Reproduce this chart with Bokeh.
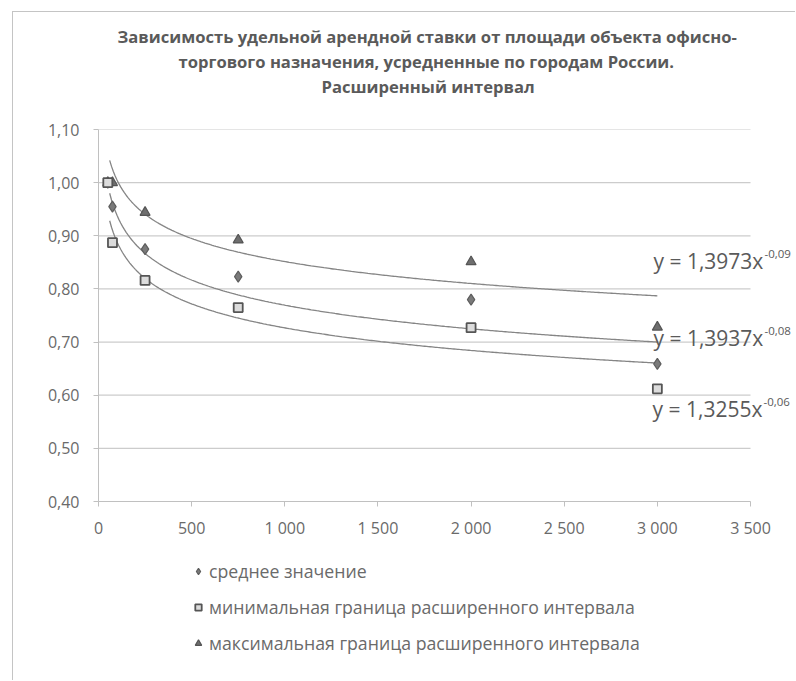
import numpy as np
from bokeh.plotting import figure
from bokeh.layouts import column
from bokeh.models import Range1d, FixedTicker, Legend, LegendItem, Label, Title
from bokeh.embed import file_html
from bokeh.resources import INLINE

# ---------------- data ----------------
area = [50, 75, 250, 750, 2000, 3000]
mean_vals = [1.00, 0.955, 0.875, 0.823, 0.780, 0.659]
min_vals = [1.00, 0.887, 0.816, 0.765, 0.727, 0.612]
max_vals = [1.00, 1.00, 0.944, 0.892, 0.851, 0.728]

series_names = [
    "среднее значение",
    "минимальная граница расширенного интервала",
    "максимальная граница расширенного интервала",
]

# power trend lines y = a * x^b (upper, middle, lower curve)
trend_a = [1.3973, 1.3937, 1.3255]
trend_b = [-0.0717, -0.086, -0.087]
trend_x_start = 60
trend_x_end = 3000
trend_texts = ["y = 1,3973x", "y = 1,3937x", "y = 1,3255x"]
trend_exps = ["-0,09", "-0,08", "-0,06"]

x_ticks = [0, 500, 1000, 1500, 2000, 2500, 3000, 3500]
x_tick_labels = ["0", "500", "1 000", "1 500", "2 000", "2 500", "3 000", "3 500"]
y_ticks = [0.40, 0.50, 0.60, 0.70, 0.80, 0.90, 1.00, 1.10]
y_tick_labels = ["0,40", "0,50", "0,60", "0,70", "0,80", "0,90", "1,00", "1,10"]

title_lines = [
    "Зависимость удельной арендной ставки от площади объекта офисно-",
    "торгового назначения, усредненные по городам России.",
    "Расширенный интервал",
]

FONT = "Open Sans"
TEXT = "#5a5a5a"
GRID = "#cccccc"
BORDER = "1px solid #c4c4c4"

MARK = {
    "mean": dict(marker="diamond", size=11, fill_color="#7a7a7a",
                 line_color="#5e5e5e", line_width=1.2),
    "max": dict(marker="triangle", size=10, fill_color="#6e6e6e",
                line_color="#555555", line_width=1.2),
    "min": dict(marker="square", size=9, fill_color="#dcdcdc",
                line_color="#555555", line_width=1.8),
}

X_MAX = x_ticks[-1]
X_VIEW = X_MAX * 698 / 652   # frame runs to the right edge; axis area ends at 3500

p = figure(width=783, height=538, output_backend="svg", toolbar_location=None,
           x_range=Range1d(0, X_VIEW), y_range=Range1d(y_ticks[0], y_ticks[-1]),
           min_border_left=85, min_border_right=0, min_border_top=117,
           min_border_bottom=49,
           styles={"margin-left": "12px", "margin-top": "11px",
                   "border-left": BORDER, "border-top": BORDER})
p.outline_line_color = None
p.background_fill_color = "white"
p.border_fill_color = "white"

# title: spacer next to the plot, then three lines outward
p.add_layout(Title(text=" ", text_font_size="17px", standoff=11), "above")
title_offsets = [19, 80, 223]
for i in (2, 1, 0):
    p.add_layout(Title(text=title_lines[i], align="left", offset=title_offsets[i],
                       text_font=FONT, text_font_size="16.6px",
                       text_font_style="bold", text_color=TEXT, standoff=0), "above")

# axes
p.xaxis.ticker = FixedTicker(ticks=x_ticks)
p.xaxis.major_label_overrides = {t: l for t, l in zip(x_ticks, x_tick_labels)}
p.xaxis.bounds = (0, X_MAX)
p.yaxis.ticker = FixedTicker(ticks=y_ticks)
p.yaxis.major_label_overrides = {t: l for t, l in zip(y_ticks, y_tick_labels)}
for ax in (p.xaxis, p.yaxis):
    ax.axis_line_color = "#c0c0c0"
    ax.major_tick_line_color = "#c0c0c0"
    ax.major_tick_in = 0
    ax.major_tick_out = 5
    ax.minor_tick_line_color = None
    ax.major_label_text_font = FONT
    ax.major_label_text_font_size = "16px"
    ax.major_label_text_color = "#6a6a6a"
p.xaxis.major_label_standoff = 10
p.yaxis.major_label_standoff = 14
p.xgrid.grid_line_color = None
p.ygrid.grid_line_color = None

# horizontal gridlines limited to the axis extent
p.segment(x0=[0] * len(y_ticks), y0=y_ticks, x1=[X_MAX] * len(y_ticks), y1=y_ticks,
          line_color=GRID, line_width=1.2)

# trend curves
xs = np.linspace(trend_x_start, trend_x_end, 300)
for a, b in zip(trend_a, trend_b):
    p.line(xs, a * xs ** b, line_color="#858585", line_width=1.3)

# points
p.scatter(area, mean_vals, **MARK["mean"])
p.scatter(area, max_vals, **MARK["max"])
p.scatter(area, min_vals, **MARK["min"])

# trendline equations
eq_pos_x = [2979, 2979, 2974]
eq_pos_y = [0.852, 0.707, 0.575]
for txt, ex, lx, ly in zip(trend_texts, trend_exps, eq_pos_x, eq_pos_y):
    p.add_layout(Label(x=lx, y=ly, text=txt, text_font=FONT, text_font_size="21px",
                       text_color=TEXT, text_baseline="middle"))
    p.add_layout(Label(x=lx, y=ly, x_offset=111, y_offset=7, text=ex,
                       text_font=FONT, text_font_size="11.5px",
                       text_color=TEXT, text_baseline="middle"))

# ---------------- legend strip below the chart ----------------
leg = figure(width=783, height=131, output_backend="svg", toolbar_location=None,
             x_range=Range1d(-2, -1), y_range=Range1d(-2, -1),
             x_axis_type=None, y_axis_type=None, min_border=0,
             styles={"margin-left": "12px", "border-left": BORDER})
leg.outline_line_color = None
leg.xgrid.grid_line_color = None
leg.ygrid.grid_line_color = None
l_mean = leg.scatter(area, mean_vals, **MARK["mean"])
l_min = leg.scatter(area, min_vals, **MARK["min"])
l_max = leg.scatter(area, max_vals, **MARK["max"])

legend = Legend(items=[
    LegendItem(label=series_names[0], renderers=[l_mean]),
    LegendItem(label=series_names[1], renderers=[l_min]),
    LegendItem(label=series_names[2], renderers=[l_max]),
], location=(92, 19))
legend.orientation = "vertical"
legend.background_fill_alpha = 0
legend.border_line_color = None
legend.padding = 0
legend.margin = 0
legend.spacing = 0
legend.glyph_width = 16
legend.glyph_height = 36
legend.label_height = 36
legend.label_standoff = 3
legend.label_text_font = FONT
legend.label_text_font_size = "17.7px"
legend.label_text_color = "#6a6a6a"
legend.label_text_baseline = "middle"
leg.add_layout(legend, "center")

page = column(p, leg, spacing=0)
open("out.html", "w").write(file_html(page, INLINE))
